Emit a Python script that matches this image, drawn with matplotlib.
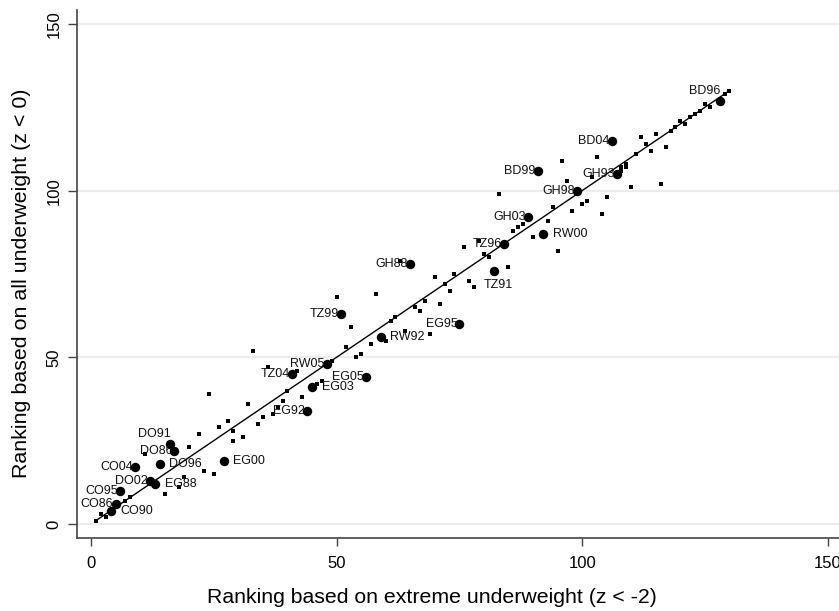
import numpy as np
import matplotlib
matplotlib.use("Agg")
import matplotlib.pyplot as plt

plt.rcParams['font.family'] = ['Liberation Sans', 'DejaVu Sans']

# labelled surveys (country code + year)
labels = ["BD96", "BD04", "BD99", "GH93", "GH98", "GH03", "RW00", "TZ96",
          "GH88", "TZ91", "TZ99", "EG95", "RW92", "RW05", "TZ04", "EG05",
          "EG03", "EG92", "DO91", "DO86", "DO96", "EG00", "CO04", "DO02",
          "EG88", "CO95", "CO86", "CO90"]
big_x = [128, 106, 91, 107, 99, 89, 92, 84, 65, 82, 51, 75, 59, 48, 41, 56,
         45, 44, 16, 17, 14, 27, 9, 12, 13, 6, 5, 4]
big_y = [127, 115, 106, 105, 100, 92, 87, 84, 78, 76, 63, 60, 56, 48, 45, 44,
         41, 34, 24, 22, 18, 19, 17, 13, 12, 10, 6, 4]
# label position, clock style
label_pos = [11, 9, 9, 9, 9, 9, 3, 9, 9, 6, 9, 9, 3, 9, 9, 9,
             3, 9, 11, 9, 3, 3, 9, 9, 3, 9, 9, 3]

# other surveys (small dots)
small_x = [1, 2, 3, 7, 8, 11, 15, 18, 19, 20, 22, 23, 25, 24, 26, 28, 29, 29,
           31, 32, 33, 34, 35, 37, 38, 39, 40, 36, 42, 43, 46, 47, 49, 52, 54,
           55, 53, 57, 60, 50, 58, 61, 62, 64, 66, 67, 68, 69, 71, 70, 72, 73,
           74, 77, 78, 63, 76, 79, 80, 81, 85, 83, 86, 87, 88, 90, 93, 94, 95,
           96, 97, 98, 100, 101, 102, 103, 104, 105, 108, 108, 109, 109, 110,
           111, 112, 113, 114, 115, 116, 117, 118, 119, 120, 121, 122, 123,
           124, 125, 126, 129, 130]
small_y = [1, 3, 2, 7, 8, 21, 9, 11, 14, 23, 27, 16, 15, 39, 29, 31, 28, 25,
           26, 36, 52, 30, 32, 33, 35, 37, 40, 47, 46, 38, 42, 43, 49, 53, 50,
           51, 59, 54, 55, 68, 69, 61, 62, 58, 65, 64, 67, 57, 66, 74, 72, 70,
           75, 73, 71, 79, 83, 85, 81, 80, 77, 99, 88, 89, 90, 86, 91, 95, 82,
           109, 103, 94, 96, 97, 104, 110, 93, 98, 106, 107, 107, 108, 101,
           111, 116, 114, 112, 117, 102, 113, 118, 119, 121, 120, 122, 123,
           124, 126, 125, 129, 130]

line_x = [1, 130]

offsets = {3: ((7, 0), 'left', 'center'),
           9: ((-1.5, 0), 'right', 'center'),
           11: ((0.5, 7), 'right', 'center'),
           6: ((3, -10), 'center', 'center')}

fig = plt.figure(figsize=(8.39, 6.11), dpi=100)
ax = fig.add_axes([0.0921, 0.12, 0.9079, 0.8637])

ax.plot(line_x, line_x, color='black', lw=1.0, zorder=2)
ax.plot(small_x, small_y, 's', color='black', ms=2.3, mew=0, zorder=3)
ax.plot(big_x, big_y, 'o', color='black', ms=6.8, mew=0, zorder=4)

for lab, x, y, p in zip(labels, big_x, big_y, label_pos):
    off, ha, va = offsets[p]
    ax.annotate(lab, (x, y), xytext=off, textcoords='offset points',
                ha=ha, va=va, fontsize=9, color='#111111', zorder=5)

ax.set_xlim(-2.79, 152.3)
ax.set_ylim(-4.11, 154.2)
ax.set_xticks([0, 50, 100, 150])
ax.set_yticks([0, 50, 100, 150])
ax.yaxis.grid(True, color='#ececec', lw=1.6)
ax.set_axisbelow(True)

for s in ['top', 'right']:
    ax.spines[s].set_visible(False)
for s in ['left', 'bottom']:
    ax.spines[s].set_color('#444444')
    ax.spines[s].set_linewidth(1.2)

ax.tick_params(axis='both', colors='#444444', labelcolor='black',
               labelsize=12, width=1.0)
ax.tick_params(axis='x', length=6, pad=7)
ax.tick_params(axis='y', length=6.5, pad=5, labelrotation=90)
for t in ax.get_yticklabels():
    t.set_va('center')

ax.set_xlabel('Ranking based on extreme underweight (z < -2)', fontsize=15.3,
              labelpad=12.5, x=0.465)
ax.set_ylabel('Ranking based on all underweight (z < 0)', fontsize=15.4,
              labelpad=11, y=0.483)

fig.savefig('out.png', dpi=100)
